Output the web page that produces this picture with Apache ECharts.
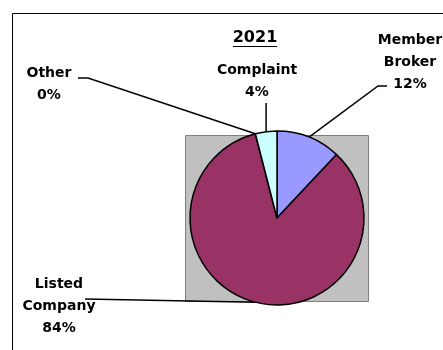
<!DOCTYPE html>
<html><head><meta charset="utf-8">
<script src="https://cdn.jsdelivr.net/npm/echarts@6/dist/echarts.min.js"></script>
<style>html,body{margin:0;padding:0;background:#fff}#c{width:443px;height:350px}</style>
</head><body><div id="c"></div>
<script>
// ---- data ----
const titleText = '2021';
const categories = ['Member Broker', 'Listed Company', 'Other', 'Complaint'];
const values = [12, 84, 0, 4];
const colors = ['#9999FF', '#993366', '#FFFFFF', '#CCFFFF'];

// ---- layout (label block: center x, top y) ----
const FONT = 'DejaVu Sans';
const labelPos = [[410, 29], [59, 273], [49, 62], [257, 59]];

function linePts(i, a, pos) {
  const cx = pos[0], top = pos[1];
  if (i === 0) return [a, [cx - 32, top + 57], [cx - 23, top + 57]];
  if (i === 1) return [a, [cx + 26, top + 26]];
  if (i === 2) return [a, [cx + 39, top + 16], [cx + 29, top + 16]];
  return [a, [a[0], top + 44]];
}

const chart = echarts.init(document.getElementById('c'), null, {renderer: 'canvas'});
chart.setOption({
  animation: false,
  backgroundColor: '#fff',
  graphic: [
    {type: 'rect', z: -10, shape: {x: 12.5, y: 13.5, width: 600, height: 600}, style: {fill: '#fff', stroke: '#000', lineWidth: 1}},
    {type: 'rect', z: -5, shape: {x: 185.5, y: 135.5, width: 183, height: 166}, style: {fill: '#C0C0C0', stroke: '#808080', lineWidth: 1}},
    {type: 'text', z: 5, x: 255, y: 38, style: {text: titleText, font: 'bold 16px "' + FONT + '"', fill: '#000', align: 'center', verticalAlign: 'middle'}},
    {type: 'line', z: 5, shape: {x1: 233, y1: 46.5, x2: 277, y2: 46.5}, style: {stroke: '#000', lineWidth: 1.2}}
  ],
  series: [{
    type: 'pie',
    center: [277, 218],
    radius: 87,
    startAngle: 90,
    clockwise: true,
    avoidLabelOverlap: false,
    percentPrecision: 0,
    data: categories.map((c, i) => ({name: c, value: values[i], itemStyle: {color: colors[i]}})),
    itemStyle: {borderColor: '#000', borderWidth: 1.5},
    label: {
      show: true,
      position: 'outside',
      color: '#000',
      fontFamily: FONT,
      fontWeight: 'bold',
      fontSize: 14,
      lineHeight: 22,
      formatter: p => p.name.replace(' ', '\n') + '\n' + p.percent + '%'
    },
    labelLine: {show: true, length: 10, length2: 10, lineStyle: {color: '#000', width: 1.5}},
    emphasis: {disabled: true},
    labelLayout: function (p) {
      const i = p.dataIndex;
      const pos = labelPos[i];
      const a = p.labelLinePoints ? p.labelLinePoints[0] : [277, 218];
      return {x: pos[0], y: pos[1], align: 'center', verticalAlign: 'top', labelLinePoints: linePts(i, a, pos)};
    }
  }]
});
</script>
</body></html>
